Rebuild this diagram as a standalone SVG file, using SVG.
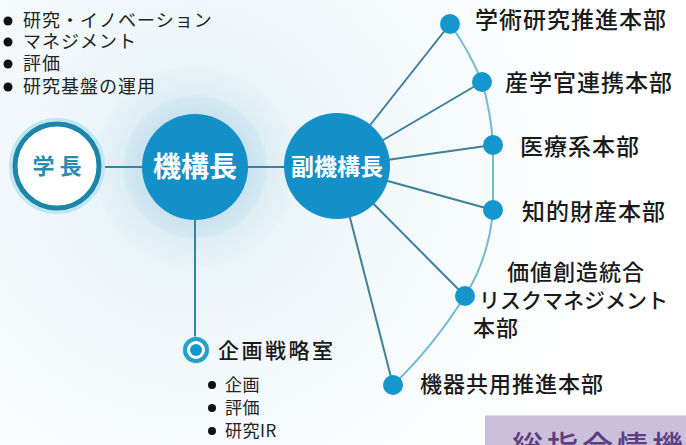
<svg xmlns="http://www.w3.org/2000/svg" width="686" height="445" viewBox="0 0 686 445">
<defs>
<radialGradient id="bg" cx="195" cy="170" r="420" gradientUnits="userSpaceOnUse">
<stop offset="0" stop-color="#e4f1f7"/>
<stop offset="0.5" stop-color="#f3f9fb"/>
<stop offset="1" stop-color="#ffffff"/>
</radialGradient>
<radialGradient id="halo" cx="195" cy="167" r="102" gradientUnits="userSpaceOnUse">
<stop offset="0.5" stop-color="#c9e2ee"/>
<stop offset="0.68" stop-color="#d3e8f1"/>
<stop offset="0.72" stop-color="#e0eff5"/>
<stop offset="0.95" stop-color="#e6f2f7"/>
<stop offset="1" stop-color="#e6f2f7" stop-opacity="0"/>
</radialGradient>
<style>
.jp{font-family:"Noto Sans CJK JP","Noto Sans CJK SC",sans-serif}
.lbl{font-size:23px;font-weight:500;fill:#1a1a1a;letter-spacing:1px}
.small{font-size:18px;fill:#222;letter-spacing:1px}
.bl{font-size:17px;fill:#222;letter-spacing:0.5px}
.spoke{stroke:#3d8099;stroke-width:2;fill:none}
.arc{stroke:#72b9d3;stroke-width:2;fill:none}
.dot{fill:#1597cd}
.big{fill:#1490c8}
.wt{fill:#ffffff;font-weight:700}
</style>
</defs>
<rect x="0" y="0" width="686" height="445" fill="url(#bg)"/>
<circle cx="195" cy="167" r="102" fill="url(#halo)"/>

<g id="connectors">
<line class="spoke" x1="100" y1="167" x2="145" y2="167"/>
<line class="spoke" x1="245" y1="167" x2="290" y2="167"/>
<line class="spoke" x1="195" y1="215" x2="195" y2="340"/>
<line class="spoke" x1="337" y1="167" x2="450" y2="24"/>
<line class="spoke" x1="337" y1="167" x2="482" y2="82"/>
<line class="spoke" x1="337" y1="167" x2="493" y2="145"/>
<line class="spoke" x1="337" y1="167" x2="493" y2="210"/>
<line class="spoke" x1="337" y1="167" x2="465" y2="296"/>
<line class="spoke" x1="337" y1="167" x2="393" y2="385"/>
<path class="arc" d="M450,24 Q470,52 482,82 Q491,112 493,145 L493,210 Q489,258 465,296 Q432,348 393,385"/>
</g>

<g id="n-gakucho">
<circle cx="57" cy="166" r="46" fill="none" stroke="#bfe6f3" stroke-width="4"/>
<circle cx="57" cy="166" r="42" fill="#ffffff" stroke="#1d86a8" stroke-width="5"/>
<text class="jp" x="57" y="174" text-anchor="middle" font-size="22" font-weight="700" fill="#2a8db0">学 長</text>
</g>

<g id="n-kikocho">
<circle class="big" cx="195" cy="167" r="53"/>
<text class="jp wt" x="195" y="177" text-anchor="middle" font-size="28">機構長</text>
</g>

<g id="n-fukukikocho">
<circle class="big" cx="337" cy="166" r="53"/>
<text class="jp wt" x="337" y="175" text-anchor="middle" font-size="23">副機構長</text>
</g>

<g id="n-top-list">
<circle cx="8" cy="21" r="4.5" fill="#111"/>
<text class="jp small" x="23" y="27">研究・イノベーション</text>
<circle cx="8" cy="42" r="4.5" fill="#111"/>
<text class="jp small" x="23" y="48">マネジメント</text>
<circle cx="8" cy="64" r="4.5" fill="#111"/>
<text class="jp small" x="23" y="70">評価</text>
<circle cx="8" cy="87" r="4.5" fill="#111"/>
<text class="jp small" x="23" y="93">研究基盤の運用</text>
</g>

<g id="n-kikaku">
<circle cx="196" cy="350" r="14" fill="#cdeef8" opacity="0.7"/>
<circle cx="196" cy="350" r="11" fill="#ffffff" stroke="#25a0c8" stroke-width="4"/>
<circle cx="196" cy="350" r="6" fill="#1597cd"/>
<text class="jp" x="218" y="358" font-size="21" font-weight="500" fill="#1a1a1a" letter-spacing="2.5">企画戦略室</text>
<circle cx="212" cy="385" r="4" fill="#111"/>
<text class="jp bl" x="225" y="391">企画</text>
<circle cx="212" cy="408" r="4" fill="#111"/>
<text class="jp bl" x="225" y="414">評価</text>
<circle cx="212" cy="431" r="4" fill="#111"/>
<text class="jp bl" x="225" y="437">研究IR</text>
</g>

<g id="n-gakujutsu">
<circle class="dot" cx="450" cy="24" r="10"/>
<text class="jp lbl" x="475" y="28">学術研究推進本部</text>
</g>
<g id="n-sangaku">
<circle class="dot" cx="482" cy="82" r="10"/>
<text class="jp lbl" x="505" y="91">産学官連携本部</text>
</g>
<g id="n-iryo">
<circle class="dot" cx="493" cy="145" r="10"/>
<text class="jp lbl" x="520" y="155">医療系本部</text>
</g>
<g id="n-chiteki">
<circle class="dot" cx="493" cy="210" r="10"/>
<text class="jp lbl" x="522" y="220">知的財産本部</text>
</g>
<g id="n-kachi">
<circle class="dot" cx="465" cy="296" r="10"/>
<text class="jp lbl" x="507" y="280" style="font-size:22px">価値創造統合</text>
<text class="jp lbl" x="479" y="308" style="font-size:21px;letter-spacing:0">リスクマネジメント</text>
<text class="jp lbl" x="473" y="336" style="font-size:22px">本部</text>
</g>
<g id="n-kiki">
<circle class="dot" cx="393" cy="385" r="10"/>
<text class="jp lbl" x="420" y="392" style="font-size:22px">機器共用推進本部</text>
</g>

<g id="n-box">
<rect x="485" y="415" width="201" height="30" fill="#cbc0dc"/>
<line x1="485" y1="415.5" x2="686" y2="415.5" stroke="#e3dcec" stroke-width="1"/>
<text class="jp" x="512" y="458" font-size="31" font-weight="500" fill="#5b3f80" letter-spacing="4">総指合情機構</text>
</g>
</svg>
